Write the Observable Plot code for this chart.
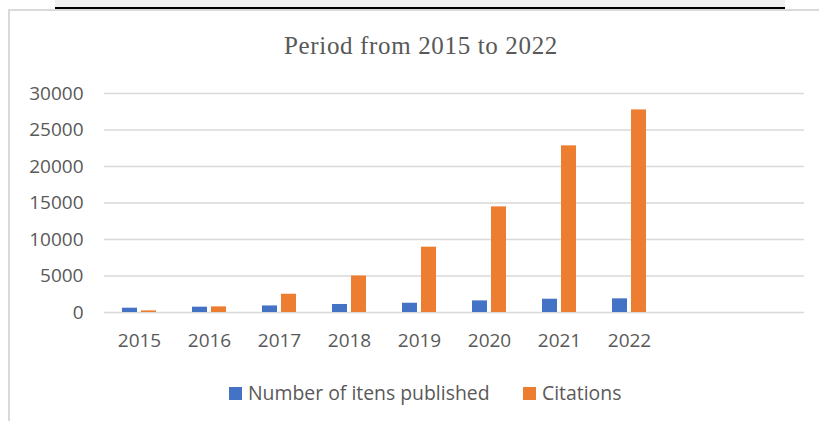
<!DOCTYPE html>
<html>
<head>
<meta charset="utf-8">
<script src="https://cdn.jsdelivr.net/npm/d3@7"></script>
<script src="https://cdn.jsdelivr.net/npm/@observablehq/plot@0.6"></script>
<style>
  html, body { margin: 0; padding: 0; background: #fff; }
  body { width: 819px; height: 421px; position: relative; overflow: hidden; }
  #strip { position: absolute; left: 55px; top: 0; width: 730px; height: 7px; background: #f0f0f0; border-bottom: 2px solid #000; }
  #frame { position: absolute; left: 8px; top: 9px; width: 900px; height: 500px; border-left: 2px solid #d9d9d9; border-top: 2px solid #d9d9d9; }
  #title { position: absolute; left: 0; width: 842px; top: 31px; text-align: center; font-family: "Liberation Serif", serif; font-size: 25px; letter-spacing: 0.65px; color: #595959; line-height: 30px; }
  #chart { position: absolute; left: 0; top: 0; }
  .leg { position: absolute; top: 381px; font-family: "Open Sans", sans-serif; font-size: 19.4px; color: #595959; line-height: 24px; display: flex; align-items: center; white-space: nowrap; }
  .sw { width: 13px; height: 13px; display: inline-block; margin-right: 6px; }
</style>
</head>
<body>
<div id="strip"></div>
<div id="frame"></div>
<div id="chart"></div>
<div id="title">Period from 2015 to 2022</div>
<div id="legend"></div>
<script>
const years = ["2015", "2016", "2017", "2018", "2019", "2020", "2021", "2022"];
const blankSlots = ["2023", "2024"];
const seriesNames = ["Number of itens published", "Citations"];
const seriesColors = ["#4472C4", "#ED7D31"];
const itemsPublished = [590, 730, 900, 1100, 1270, 1590, 1820, 1870];
const citations = [220, 770, 2500, 5000, 8950, 14470, 22830, 27750];
const yTicks = [0, 5000, 10000, 15000, 20000, 25000, 30000];

const slots = years.concat(blankSlots);
const rows = [];
years.forEach((y, i) => {
  rows.push({year: y, series: seriesNames[0], value: itemsPublished[i]});
  rows.push({year: y, series: seriesNames[1], value: citations[i]});
});
const gridRows = [];
slots.forEach(s => yTicks.forEach(t => gridRows.push({slot: s, tick: t})));

const plot = Plot.plot({
  width: 819,
  height: 360,
  marginTop: 93,
  marginBottom: 48,
  marginLeft: 103,
  marginRight: 14,
  style: {fontFamily: "'Open Sans', sans-serif", fontSize: "19px", color: "#595959", background: "transparent"},
  fx: {domain: slots, padding: 0, label: null, axis: null},
  x: {domain: seriesNames, paddingInner: 0.2, paddingOuter: 0.855, axis: null},
  y: {domain: [0, 30000], axis: null},
  color: {domain: seriesNames, range: seriesColors},
  marks: [
    Plot.ruleY(gridRows, {fx: "slot", y: "tick", stroke: "#d9d9d9", strokeWidth: 1.4}),
    Plot.axisY({ticks: yTicks, tickFormat: d3.format("d"), tickSize: 0, tickPadding: 21, label: null, fill: "#595959", fontSize: 19}),
    Plot.axisFx({anchor: "bottom", tickSize: 0, tickPadding: 21, label: null, fill: "#595959", fontSize: 19,
      tickFormat: d => years.includes(d) ? d : ""}),
    Plot.barY(rows, {fx: "year", x: "series", y: "value", fill: "series"})
  ]
});
document.getElementById("chart").appendChild(plot);

const legend = document.getElementById("legend");
const legendLeft = [229, 523];
seriesNames.forEach((name, i) => {
  const el = document.createElement("div");
  el.className = "leg";
  el.style.left = legendLeft[i] + "px";
  el.innerHTML = `<span class="sw" style="background:${seriesColors[i]}"></span><span>${name}</span>`;
  legend.appendChild(el);
});
</script>
</body>
</html>
